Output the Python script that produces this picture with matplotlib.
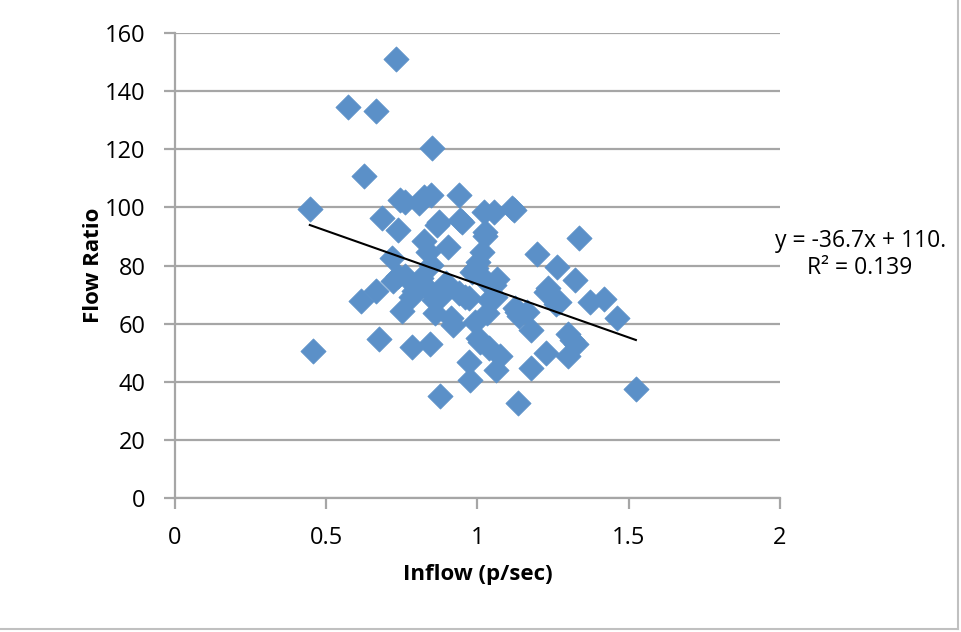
import numpy as np
import matplotlib.pyplot as plt
from matplotlib.lines import Line2D

# inflow (p/sec) and flow ratio
inflow = [0.446, 0.456, 0.572, 0.664, 0.730, 0.625, 0.850, 0.615, 0.664, 0.674,
          0.684, 0.717, 0.737, 0.744, 0.760, 0.720, 0.737, 0.750, 0.760, 0.780,
          0.783, 0.790, 0.807, 0.823, 0.846, 0.823, 0.836, 0.846, 0.813, 0.833,
          0.843, 0.860, 0.866, 0.873, 0.856, 0.876, 0.876, 0.893, 0.902, 0.896,
          0.912, 0.919, 0.939, 0.942, 0.949, 0.939, 0.959, 0.972, 0.972, 0.975,
          0.982, 0.992, 0.995, 1.002, 1.002, 1.008, 1.021, 1.025, 1.025, 1.015,
          1.025, 1.031, 1.038, 1.038, 1.054, 1.054, 1.058, 1.064, 1.061, 1.074,
          1.114, 1.121, 1.124, 1.130, 1.137, 1.164, 1.177, 1.177, 1.197, 1.226,
          1.233, 1.226, 1.263, 1.269, 1.259, 1.299, 1.312, 1.299, 1.326, 1.336,
          1.322, 1.372, 1.418, 1.461, 1.524, 1.134]
flow_ratio = [99.4, 50.6, 134.5, 133.2, 151.0, 110.8, 120.4, 67.8, 71.2, 54.7,
              96.4, 82.6, 92.2, 102.5, 101.9, 74.7, 76.4, 64.3, 76.4, 69.2,
              52.0, 71.2, 101.5, 103.6, 104.3, 88.4, 84.6, 80.2, 75.7, 72.3,
              53.0, 63.7, 94.0, 95.0, 68.1, 69.2, 35.1, 71.6, 86.4, 74.0,
              61.9, 59.5, 104.3, 95.7, 95.0, 70.5, 69.2, 68.8, 46.8, 40.6,
              77.8, 60.6, 79.1, 81.2, 55.1, 53.7, 98.4, 91.5, 90.1, 84.7,
              75.0, 63.7, 68.1, 51.6, 98.4, 73.3, 69.2, 75.4, 44.0, 48.9,
              99.8, 99.1, 65.4, 64.0, 62.6, 64.0, 57.8, 44.7, 84.0, 70.9,
              72.3, 49.9, 79.5, 67.4, 66.7, 56.4, 54.4, 48.9, 53.0, 89.5,
              75.0, 67.4, 68.5, 61.9, 37.5, 32.7]

slope = -36.7
intercept = 110.3
fit_label = "y = -36.7x + 110.\nR² = 0.139"

plt.rcParams['font.family'] = ['Open Sans', 'DejaVu Sans']

fig = plt.figure(figsize=(9.61, 6.32), dpi=100)
ax = fig.add_axes([0.182, 0.212, 0.6295, 0.7358])

ax.scatter(inflow, flow_ratio, marker='D', s=165, color='#5b90c8',
           edgecolors='#5b90c8', linewidths=0.5, zorder=3)

fx = np.array([min(inflow), max(inflow)])
ax.plot(fx, slope * fx + intercept, color='black', lw=1.5, zorder=4)

ax.set_xlim(0, 2)
ax.set_ylim(0, 160)
ax.set_xticks([0, 0.5, 1, 1.5, 2])
ax.set_xticklabels(['0', '0.5', '1', '1.5', '2'])
ax.set_yticks(range(0, 161, 20))

ax.yaxis.grid(True, color='#a6a6a6', lw=1.6)
ax.set_axisbelow(True)
for s in ['top', 'right']:
    ax.spines[s].set_visible(False)
ax.spines['left'].set_color('#a6a6a6')
ax.spines['bottom'].set_color('#a6a6a6')
ax.spines['left'].set_linewidth(1.6)
ax.spines['bottom'].set_linewidth(1.6)
ax.tick_params(colors='#a6a6a6', labelcolor='black', length=8, width=1.6,
               labelsize=17)
ax.tick_params(axis='y', pad=13)
ax.tick_params(axis='x', pad=12)

ax.set_xlabel('Inflow (p/sec)', fontsize=16, fontweight='bold', labelpad=10)
ax.set_ylabel('Flow Ratio', fontsize=16, fontweight='bold', labelpad=1)

fig.text(0.895, 0.597, fit_label, ha='center', va='center', fontsize=16.5,
         linespacing=1.15)

fig.add_artist(Line2D([0.997, 0.997], [0.005, 1], color='#c0c0c0', lw=1.5))
fig.add_artist(Line2D([0, 0.997], [0.005, 0.005], color='#c0c0c0', lw=1.5))

fig.savefig('out.png', dpi=100)
